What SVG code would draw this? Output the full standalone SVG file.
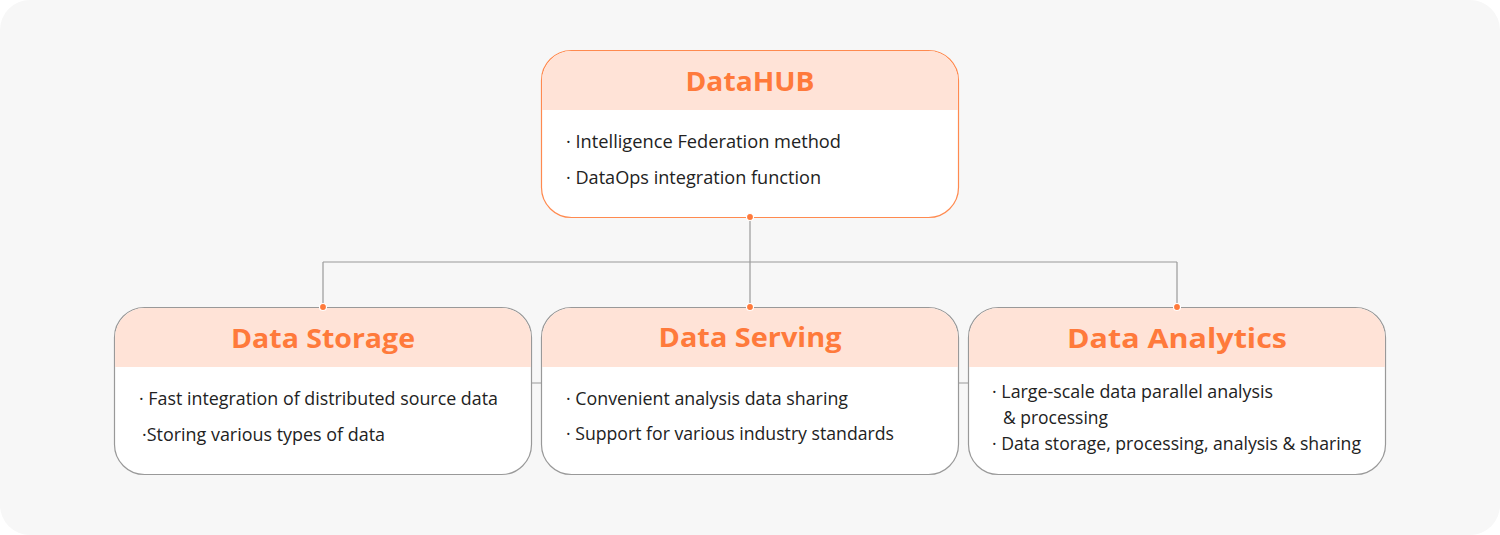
<svg xmlns="http://www.w3.org/2000/svg" width="1500" height="535" viewBox="0 0 1500 535">
<style>
.bg{fill:#f7f7f7}
.box{fill:#ffffff;stroke:#999999;stroke-width:1.2}
.hub{stroke:#ff8a4f}
.head{fill:#ffe3d7}
.title{font-family:"Open Sans","Liberation Sans",sans-serif;font-weight:700;font-size:26px;fill:#ff7a3b;text-anchor:middle}
.body{font-family:"Open Sans","Liberation Sans",sans-serif;font-size:18px;fill:#222222}
.conn{fill:none;stroke:#9a9a9a;stroke-width:1.2}
.dot{fill:#ff7a3b;stroke:#ffffff;stroke-width:1.2}
</style>
<rect class="bg" x="0" y="0" width="1500" height="535" rx="30"/>
<g id="connectors">
<path class="conn" d="M750,217 V262 M323,262 H1177 M323,262 V307 M750,262 V307 M1177,262 V307"/>
<path class="conn" d="M531,383 H541 M958,383 H968"/>
</g>
<g id="datahub">
<rect class="box hub" x="541.5" y="50.5" width="417" height="167" rx="30"/>
<path class="head" d="M542.1,110 V80.5 A29.4,29.4 0 0 1 571.5,51.1 H928.5 A29.4,29.4 0 0 1 957.9,80.5 V110 Z"/>
<text class="title" x="750" y="91" textLength="129" lengthAdjust="spacingAndGlyphs">DataHUB</text>
<text class="body" x="566" y="148" textLength="275" lengthAdjust="spacingAndGlyphs">· Intelligence Federation method</text>
<text class="body" x="566" y="184" textLength="255" lengthAdjust="spacingAndGlyphs">· DataOps integration function</text>
<circle class="dot" cx="750" cy="217" r="3.5"/>
</g>
<g id="data-storage">
<rect class="box" x="114.5" y="307.5" width="417" height="167" rx="30"/>
<path class="head" d="M115.1,367 V337.5 A29.4,29.4 0 0 1 144.5,308.1 H501.5 A29.4,29.4 0 0 1 530.9,337.5 V367 Z"/>
<text class="title" x="323" y="348" textLength="184" lengthAdjust="spacingAndGlyphs">Data Storage</text>
<text class="body" x="139" y="405" textLength="359" lengthAdjust="spacingAndGlyphs">· Fast integration of distributed source data</text>
<text class="body" x="142" y="441" textLength="243" lengthAdjust="spacingAndGlyphs">·Storing various types of data</text>
<circle class="dot" cx="323" cy="307" r="3.5"/>
</g>
<g id="data-serving">
<rect class="box" x="541.5" y="307.5" width="417" height="167" rx="30"/>
<path class="head" d="M542.1,367 V337.5 A29.4,29.4 0 0 1 571.5,308.1 H928.5 A29.4,29.4 0 0 1 957.9,337.5 V367 Z"/>
<text class="title" x="750" y="347" textLength="183" lengthAdjust="spacingAndGlyphs">Data Serving</text>
<text class="body" x="566" y="405" textLength="282" lengthAdjust="spacingAndGlyphs">· Convenient analysis data sharing</text>
<text class="body" x="566" y="440" textLength="328" lengthAdjust="spacingAndGlyphs">· Support for various industry standards</text>
<circle class="dot" cx="750" cy="307" r="3.5"/>
</g>
<g id="data-analytics">
<rect class="box" x="968.5" y="307.5" width="417" height="167" rx="30"/>
<path class="head" d="M969.1,367 V337.5 A29.4,29.4 0 0 1 998.5,308.1 H1355.5 A29.4,29.4 0 0 1 1384.9,337.5 V367 Z"/>
<text class="title" x="1177" y="348" textLength="220" lengthAdjust="spacingAndGlyphs">Data Analytics</text>
<text class="body" x="992" y="398" textLength="281" lengthAdjust="spacingAndGlyphs">· Large-scale data parallel analysis</text>
<text class="body" x="1003" y="424" textLength="105" lengthAdjust="spacingAndGlyphs">&amp; processing</text>
<text class="body" x="992" y="450" textLength="369" lengthAdjust="spacingAndGlyphs">· Data storage, processing, analysis &amp; sharing</text>
<circle class="dot" cx="1177" cy="307" r="3.5"/>
</g>
</svg>
